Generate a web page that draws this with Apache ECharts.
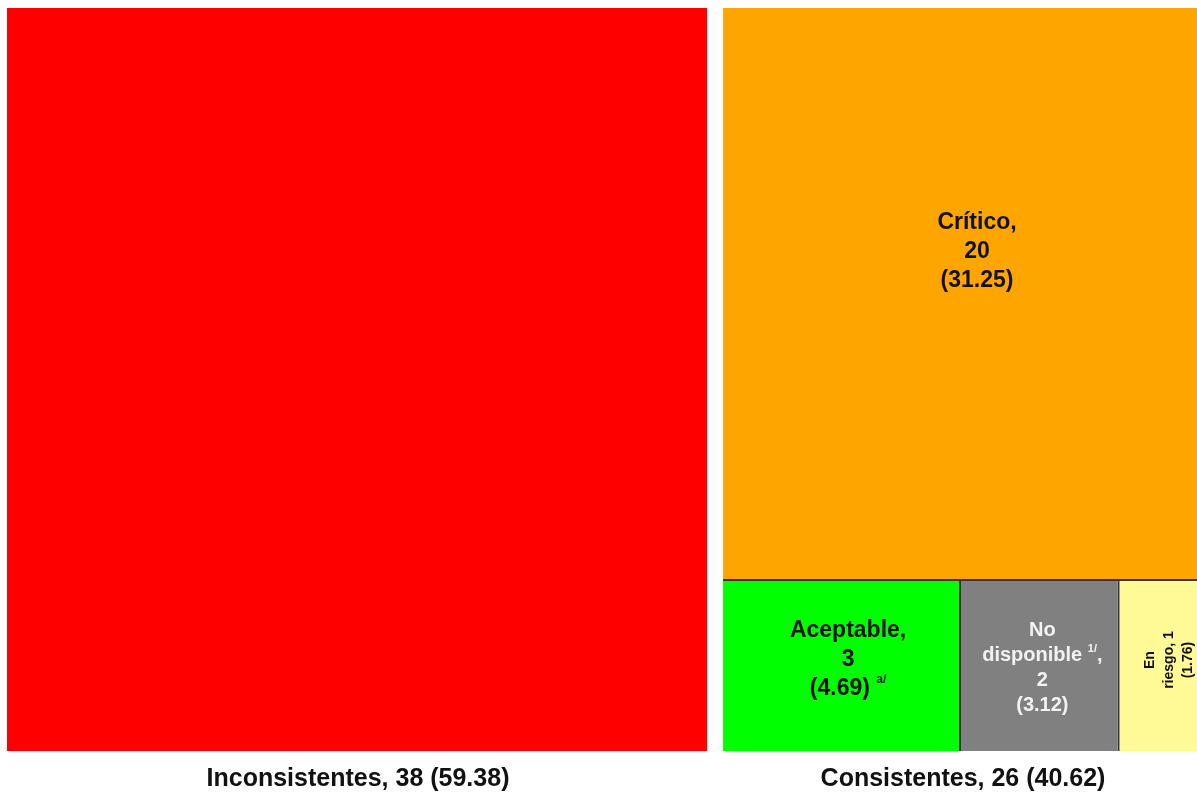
<!DOCTYPE html>
<html>
<head>
<meta charset="utf-8">
<script src="https://cdn.jsdelivr.net/npm/echarts@6/dist/echarts.min.js"></script>
<style>
html,body{margin:0;padding:0;background:#fff;}
#chart{width:1197px;height:793px;}
</style>
</head>
<body>
<div id="chart"></div>
<script>
// ---- data ----
const groups = ['Inconsistentes', 'Consistentes'];
const groupValues = [38, 26];
const groupPct = ['59.38', '40.62'];
const states = ['Crítico', 'Aceptable', 'No disponible', 'En riesgo'];
const stateValues = [20, 3, 2, 1];
const statePct = ['31.25', '4.69', '3.12', '1.76'];
const stateNotes = ['', 'a/', '1/', ''];

const FONT = '"Liberation Sans", Arial, sans-serif';
const chart = echarts.init(document.getElementById('chart'));

const big = {fontFamily: FONT, fontWeight: 'bold', fontSize: 23, lineHeight: 29, color: '#111'};
const sup = {fontFamily: FONT, fontWeight: 'bold', fontSize: 12, lineHeight: 14, verticalAlign: 'top', color: '#111'};
const mid = {fontFamily: FONT, fontWeight: 'bold', fontSize: 20, lineHeight: 25, color: '#f2f2f2'};
const supW = {fontFamily: FONT, fontWeight: 'bold', fontSize: 11, lineHeight: 12, verticalAlign: 'top', color: '#f2f2f2'};
const small = {fontFamily: FONT, fontWeight: 'bold', fontSize: 14, lineHeight: 19, color: '#111'};

const labelFor = [
  // Crítico
  {
    position: 'inside', align: 'center', verticalAlign: 'middle', offset: [17, 195],
    formatter: () => `{b|${states[0]},}\n{b|${stateValues[0]}}\n{b|(${statePct[0]})}`,
    rich: {b: big}
  },
  // Aceptable
  {
    position: 'inside', align: 'center', verticalAlign: 'middle', offset: [7, 30],
    formatter: () => `{b|${states[1]},}\n{b|${stateValues[1]}}\n{b|(${statePct[1]}) }{s|${stateNotes[1]}}`,
    rich: {b: big, s: sup}
  },
  // No disponible
  {
    position: 'inside', align: 'center', verticalAlign: 'middle', offset: [3, 32],
    formatter: () => {
      const w = states[2].split(' ');
      return `{m|${w[0]}}\n{m|${w[1]} }{s|${stateNotes[2]}}{m|,}\n{m|${stateValues[2]}}\n{m|(${statePct[2]})}`;
    },
    rich: {m: mid, s: supW}
  },
  // En riesgo
  {
    position: 'inside', align: 'center', verticalAlign: 'middle', offset: [6, 62], rotate: 90,
    formatter: () => {
      const w = states[3].split(' ');
      return `{t|${w[0]}}\n{t|${w[1]}, ${stateValues[3]}}\n{t|(${statePct[3]})}`;
    },
    rich: {t: small}
  }
];

const stateColors = ['#FFA500', '#00FF00', '#808080', '#FFFA96'];

const data = [
  {
    name: groups[0], value: groupValues[0],
    itemStyle: {color: '#FF0000'},
    label: {show: false}
  },
  {
    name: groups[1], value: groupValues[1],
    itemStyle: {color: '#333'},
    children: states.map((s, i) => ({
      name: s, value: stateValues[i],
      itemStyle: {color: stateColors[i]},
      label: Object.assign({show: true, overflow: 'none'}, labelFor[i])
    }))
  }
];

chart.setOption({
  animation: false,
  series: [{
    type: 'treemap',
    left: 7, top: 8, right: 0, bottom: 42,
    roam: false,
    nodeClick: false,
    breadcrumb: {show: false},
    data: data,
    levels: [
      {itemStyle: {gapWidth: 16, borderWidth: 0, borderColor: '#fff'}},
      {itemStyle: {gapWidth: 2, borderWidth: 0, borderColor: '#333'}},
      {itemStyle: {gapWidth: 0, borderWidth: 0}}
    ]
  }],
  graphic: [
    {
      type: 'text', x: 358, y: 779,
      style: {
        text: `${groups[0]}, ${groupValues[0]} (${groupPct[0]})`,
        font: 'bold 25px ' + FONT, fill: '#111',
        textAlign: 'center', textVerticalAlign: 'middle'
      }
    },
    {
      type: 'text', x: 963, y: 779,
      style: {
        text: `${groups[1]}, ${groupValues[1]} (${groupPct[1]})`,
        font: 'bold 25px ' + FONT, fill: '#111',
        textAlign: 'center', textVerticalAlign: 'middle'
      }
    }
  ]
});
</script>
</body>
</html>
